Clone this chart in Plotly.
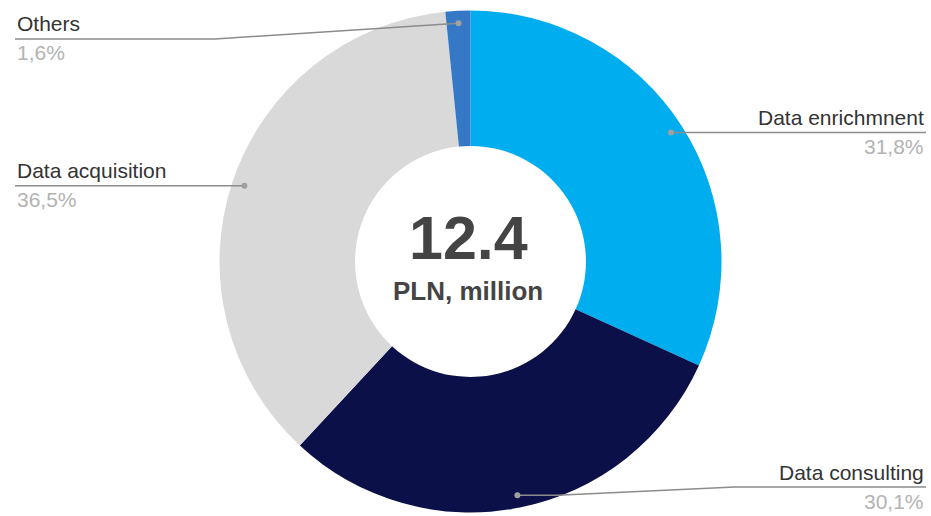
import math
import plotly.graph_objects as go

# Revenue split by service line
categories = ["Data enrichmnent", "Data consulting", "Data acquisition", "Others"]
shares = [31.8, 30.1, 36.5, 1.6]
share_labels = ["31,8%", "30,1%", "36,5%", "1,6%"]
total_value = "12.4"
total_unit = "PLN, million"

slice_colors = ["#00AEEF", "#0C1048", "#D9D9D9", "#3579C6"]

# Canvas and donut geometry (pixels)
W, H = 931, 516
CX, CY, R = 470.5, 261.5, 251
HOLE = 0.46
ROTATION = 0
DOT_R = 0.95 * R


def px(x):
    return x / W


def py(y):
    return 1 - y / H


def polar(angle_deg, r):
    a = math.radians(angle_deg)
    return CX + r * math.sin(a), CY - r * math.cos(a)


fig = go.Figure(
    go.Pie(
        labels=categories,
        values=shares,
        sort=False,
        direction="clockwise",
        rotation=ROTATION,
        hole=HOLE,
        textinfo="none",
        hoverinfo="label+percent",
        marker=dict(colors=slice_colors, line=dict(width=0)),
        domain=dict(x=[px(CX - R), px(CX + R)], y=[py(CY + R), py(CY - R)]),
        showlegend=False,
    )
)

# Callout layout: which side the label sits on, the y of its rule
# (None = level with the dot) and an optional bend point near the dot.
callouts = {
    "Data enrichmnent": dict(side="right", line_y=None, bend=None),
    "Data consulting": dict(side="right", line_y=487, bend=(40, 735)),
    "Data acquisition": dict(side="left", line_y=None, bend=None),
    "Others": dict(side="left", line_y=39, bend=(None, 215)),
}
LEFT_X, RIGHT_X = 15, 926
LINE_COLOR = "#8c8c8c"
LABEL_FONT = "Liberation Sans, Arial"

shapes = []
annotations = []
total = sum(shares)
start = float(ROTATION)
for name, val, pct in zip(categories, shares, share_labels):
    span = 360.0 * val / total
    mid = start + span / 2
    start += span
    dx, dy = polar(mid, DOT_R)
    c = callouts[name]
    ly = dy if c["line_y"] is None else c["line_y"]
    end_x = RIGHT_X if c["side"] == "right" else LEFT_X

    pts = [(dx, dy)]
    if c["bend"] is not None:
        off, knee_x = c["bend"]
        if off is not None:
            pts.append((dx + off, dy))
        pts.append((knee_x, ly))
    pts.append((end_x, ly))
    path = "M " + " L ".join(f"{px(x):.5f},{py(y):.5f}" for x, y in pts)
    shapes.append(dict(type="path", path=path, xref="paper", yref="paper",
                       line=dict(color=LINE_COLOR, width=1.5)))
    shapes.append(dict(type="circle", xref="paper", yref="paper",
                       xsizemode="pixel", ysizemode="pixel",
                       xanchor=px(dx), yanchor=py(dy),
                       x0=-3, x1=3, y0=-3, y1=3,
                       fillcolor="#a0a0a0", line=dict(width=0)))

    anchor = "right" if c["side"] == "right" else "left"
    annotations.append(dict(text=name, x=px(end_x), y=py(ly - 15),
                            xref="paper", yref="paper", xanchor=anchor,
                            yanchor="middle", showarrow=False,
                            font=dict(family=LABEL_FONT, size=21,
                                      color="#333333")))
    annotations.append(dict(text=pct, x=px(end_x), y=py(ly + 14),
                            xref="paper", yref="paper", xanchor=anchor,
                            yanchor="middle", showarrow=False,
                            font=dict(family=LABEL_FONT, size=21,
                                      color="#b3b3b3")))

# Centre total
annotations.append(dict(text=f"<b>{total_value}</b>", x=px(CX - 2), y=py(238),
                        xref="paper", yref="paper", xanchor="center",
                        yanchor="middle", showarrow=False,
                        font=dict(family=LABEL_FONT, size=61, color="#444444")))
annotations.append(dict(text=f"<b>{total_unit}</b>", x=px(CX - 3), y=py(291),
                        xref="paper", yref="paper", xanchor="center",
                        yanchor="middle", showarrow=False,
                        font=dict(family=LABEL_FONT, size=26, color="#444444")))

fig.update_layout(
    width=W,
    height=H,
    margin=dict(l=0, r=0, t=0, b=0),
    paper_bgcolor="white",
    plot_bgcolor="white",
    shapes=shapes,
    annotations=annotations,
)

fig.write_html("out.html")
